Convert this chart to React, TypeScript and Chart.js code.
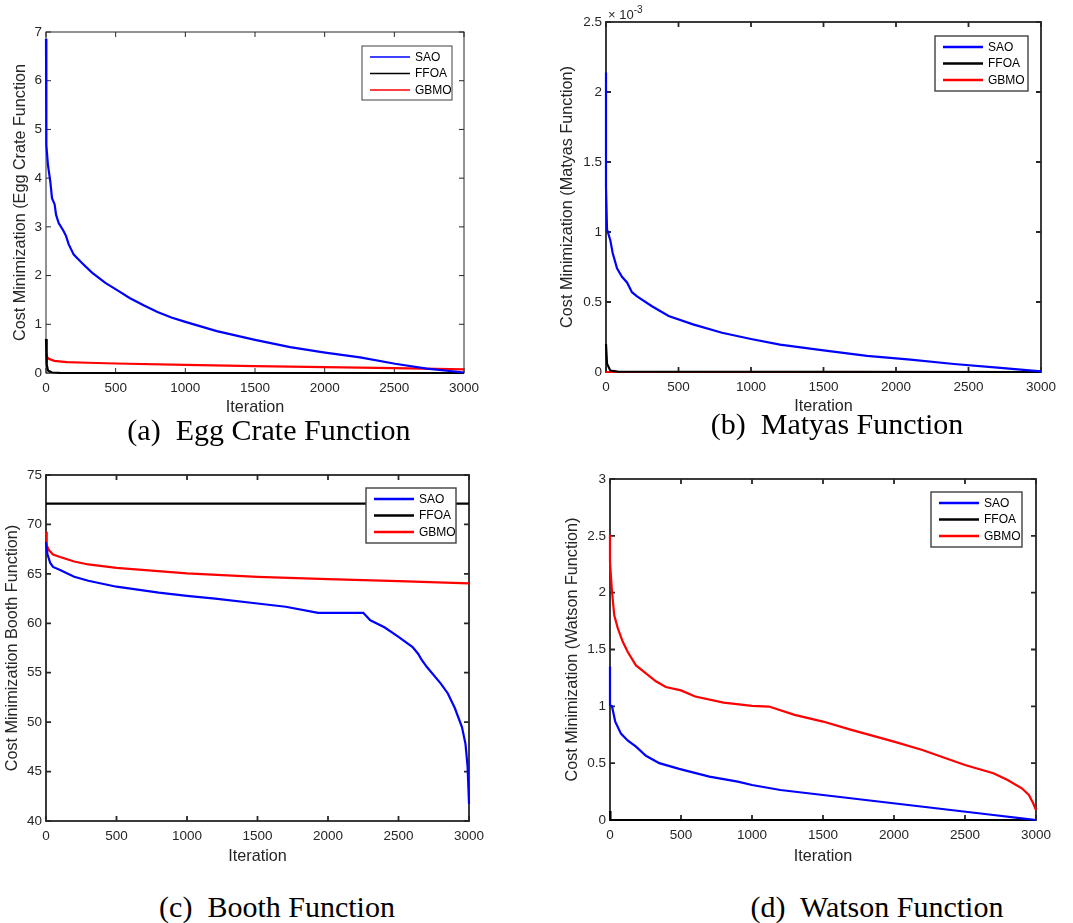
import React, { useEffect, useRef } from "react";
import { Chart, registerables } from "chart.js";
Chart.register(...registerables);

// ---------------- DATA ----------------
const seriesNames = ["SAO", "FFOA", "GBMO"];
const xTicksIter = [0, 500, 1000, 1500, 2000, 2500, 3000];

// (a) Egg Crate
const eggSaoIter = [0, 0, 5, 14, 31, 43, 62, 72, 91, 127, 144, 163, 199, 258, 330, 426, 522, 600, 700, 800, 900, 1000, 1226, 1500, 1752, 2003, 2254, 2505, 2733, 3000];
const eggSao = [6.86, 5.64, 4.68, 4.27, 3.93, 3.59, 3.46, 3.25, 3.08, 2.91, 2.81, 2.64, 2.43, 2.26, 2.06, 1.85, 1.68, 1.54, 1.39, 1.25, 1.14, 1.05, 0.86, 0.68, 0.53, 0.42, 0.32, 0.19, 0.09, 0.01];
const eggFfoaIter = [0, 5, 14, 43, 100, 3000];
const eggFfoa = [0.7, 0.18, 0.05, 0.01, 0.002, 0];
const eggGbmoIter = [0, 5, 20, 60, 150, 300, 500, 1000, 1500, 2000, 2500, 3000];
const eggGbmo = [0.39, 0.34, 0.29, 0.25, 0.225, 0.21, 0.195, 0.165, 0.14, 0.12, 0.1, 0.075];
const eggYTicks = [0, 1, 2, 3, 4, 5, 6, 7];

// (b) Matyas (values in units of 1e-3)
const matSaoIter = [0, 0, 7, 30, 46, 76, 110, 145, 179, 214, 317, 432, 600, 800, 1000, 1200, 1500, 1800, 2100, 2400, 2700, 3000];
const matSao = [2.14, 1.32, 1.02, 0.94, 0.85, 0.74, 0.68, 0.64, 0.57, 0.54, 0.47, 0.4, 0.34, 0.28, 0.236, 0.195, 0.155, 0.115, 0.088, 0.057, 0.031, 0.005];
const matFfoaIter = [0, 7, 30, 80, 3000];
const matFfoa = [0.2, 0.06, 0.01, 0.003, 0];
const matGbmoIter = [0, 3000];
const matGbmo = [0, 0];
const matYTicks = [0, 0.5, 1, 1.5, 2, 2.5];
const matExponent = -3;

// (c) Booth
const boothSaoIter = [0, 10, 30, 50, 100, 200, 300, 500, 800, 1000, 1200, 1500, 1700, 1930, 2250, 2300, 2400, 2500, 2600, 2640, 2660, 2700, 2800, 2850, 2900, 2950, 2975, 2990, 3000];
const boothSao = [68.2, 67.0, 66.1, 65.7, 65.4, 64.7, 64.3, 63.7, 63.1, 62.78, 62.5, 62.0, 61.67, 61.06, 61.06, 60.3, 59.6, 58.63, 57.6, 56.9, 56.4, 55.6, 53.9, 52.9, 51.4, 49.5, 47.8, 45.5, 41.75];
const boothFfoaIter = [0, 3000];
const boothFfoa = [72.1, 72.1];
const boothGbmoIter = [0, 5, 20, 50, 100, 200, 300, 500, 1000, 1500, 2000, 2500, 3000];
const boothGbmo = [69.26, 67.9, 67.4, 66.95, 66.7, 66.25, 65.95, 65.6, 65.04, 64.7, 64.47, 64.27, 64.03];
const boothYTicks = [40, 45, 50, 55, 60, 65, 70, 75];

// (d) Watson
const watSaoIter = [0, 0, 14, 37, 77, 124, 183, 253, 347, 487, 700, 900, 1000, 1200, 1500, 1800, 2100, 2400, 2700, 2900, 3000];
const watSao = [1.35, 1.01, 1.0, 0.865, 0.76, 0.7, 0.645, 0.565, 0.5, 0.45, 0.382, 0.338, 0.308, 0.264, 0.22, 0.176, 0.132, 0.088, 0.044, 0.015, 0.0];
const watFfoaIter = [0, 3, 3000];
const watFfoa = [0.08, 0.0, 0.0];
const watGbmoIter = [0, 0, 14, 30, 54, 89, 124, 183, 253, 323, 393, 500, 600, 800, 1000, 1120, 1300, 1500, 1700, 2000, 2200, 2500, 2700, 2800, 2900, 2950, 2980, 3000];
const watGbmo = [2.51, 2.27, 2.01, 1.8, 1.69, 1.57, 1.48, 1.36, 1.29, 1.22, 1.17, 1.14, 1.086, 1.033, 1.004, 0.998, 0.925, 0.866, 0.793, 0.69, 0.616, 0.484, 0.411, 0.352, 0.279, 0.22, 0.147, 0.088];
const watYTicks = [0, 0.5, 1, 1.5, 2, 2.5, 3];

// ---------------- STYLE / LAYOUT ----------------
const colors = ["#0000FF", "#000000", "#FF0000"];
const axisColor = "#262626";
const sansFont = '"Liberation Sans", Arial, Helvetica, sans-serif';
const serifFont = '"Times New Roman", "Liberation Serif", serif';

type Box = { left: number; top: number; w: number; h: number };
type Panel = {
  key: string;
  caption: string;
  captionX: number;
  captionY: number;
  canvas: Box;
  area: { l: number; t: number; r: number; b: number };
  yTitle: string;
  yTitleX: number;
  xTitleY: number;
  legend: { x: number; y: number; w: number; h: number };
  frameWidth: number;
  legendLineWidth: number;
  series: { iter: number[]; vals: number[] }[];
  yTicks: number[];
  unit: number;
  exponent?: number;
};

const panels: Panel[] = [
  {
    key: "a", caption: "(a)  Egg Crate Function", captionX: 269, captionY: 430,
    canvas: { left: 0, top: 0, w: 540, h: 421 },
    area: { l: 46, t: 32, r: 464, b: 373 },
    yTitle: "Cost Minimization (Egg Crate Function", yTitleX: 21, xTitleY: 408,
    legend: { x: 362, y: 46, w: 90, h: 54 }, frameWidth: 1, legendLineWidth: 1.6,
    series: [
      { iter: eggSaoIter, vals: eggSao },
      { iter: eggFfoaIter, vals: eggFfoa },
      { iter: eggGbmoIter, vals: eggGbmo },
    ],
    yTicks: eggYTicks, unit: 1,
  },
  {
    key: "b", caption: "(b)  Matyas Function", captionX: 837, captionY: 424,
    canvas: { left: 540, top: 0, w: 533, h: 421 },
    area: { l: 606, t: 22, r: 1041, b: 372 },
    yTitle: "Cost Minimization (Matyas Function)", yTitleX: 568, xTitleY: 407,
    legend: { x: 935, y: 36, w: 93, h: 55 }, frameWidth: 1.8, legendLineWidth: 2.5,
    series: [
      { iter: matSaoIter, vals: matSao },
      { iter: matFfoaIter, vals: matFfoa },
      { iter: matGbmoIter, vals: matGbmo },
    ],
    yTicks: matYTicks, unit: Math.pow(10, matExponent), exponent: matExponent,
  },
  {
    key: "c", caption: "(c)  Booth Function", captionX: 277, captionY: 907,
    canvas: { left: 0, top: 440, w: 540, h: 430 },
    area: { l: 46, t: 475, r: 469, b: 821 },
    yTitle: "Cost Minimization Booth Function)", yTitleX: 13, xTitleY: 857,
    legend: { x: 366, y: 488, w: 90, h: 55 }, frameWidth: 1.8, legendLineWidth: 2.5,
    series: [
      { iter: boothSaoIter, vals: boothSao },
      { iter: boothFfoaIter, vals: boothFfoa },
      { iter: boothGbmoIter, vals: boothGbmo },
    ],
    yTicks: boothYTicks, unit: 1,
  },
  {
    key: "d", caption: "(d)  Watson Function", captionX: 877, captionY: 907,
    canvas: { left: 540, top: 440, w: 533, h: 430 },
    area: { l: 610, t: 479, r: 1036, b: 820 },
    yTitle: "Cost Minimization (Watson Function)", yTitleX: 573, xTitleY: 857,
    legend: { x: 931, y: 492, w: 91, h: 55 }, frameWidth: 1.8, legendLineWidth: 2.5,
    series: [
      { iter: watSaoIter, vals: watSao },
      { iter: watFfoaIter, vals: watFfoa },
      { iter: watGbmoIter, vals: watGbmo },
    ],
    yTicks: watYTicks, unit: 1,
  },
];

const tickFontSize = 13.5;
const titleFontSize = 16.2;
const legendFontSize = 12;

const matlabPlugin = {
  id: "matlabPlugin",
  beforeDatasetsDraw(chart: any, _args: any, opts: any) {
    const { ctx, chartArea } = chart;
    const { left, top, right, bottom } = chartArea;
    ctx.save();
    ctx.strokeStyle = axisColor;
    ctx.lineWidth = opts.frameWidth;
    ctx.strokeRect(left, top, right - left, bottom - top);
    const L = 5;
    ctx.beginPath();
    chart.scales.x.ticks.forEach((t: any) => {
      const px = chart.scales.x.getPixelForValue(t.value);
      ctx.moveTo(px, bottom);
      ctx.lineTo(px, bottom - L);
      ctx.moveTo(px, top);
      ctx.lineTo(px, top + L);
    });
    chart.scales.y.ticks.forEach((t: any) => {
      const py = chart.scales.y.getPixelForValue(t.value);
      ctx.moveTo(left, py);
      ctx.lineTo(left + L, py);
      ctx.moveTo(right, py);
      ctx.lineTo(right - L, py);
    });
    ctx.stroke();
    ctx.restore();
  },
  afterDraw(chart: any, _args: any, opts: any) {
    const { ctx, chartArea } = chart;
    const lg = opts.legend;
    ctx.save();
    ctx.fillStyle = "#ffffff";
    ctx.fillRect(lg.x, lg.y, lg.w, lg.h);
    ctx.strokeStyle = "#404040";
    ctx.lineWidth = opts.frameWidth > 1 ? 1.4 : 1;
    ctx.strokeRect(lg.x, lg.y, lg.w, lg.h);
    const rows = [11, 27.5, 44];
    chart.data.datasets.forEach((ds: any, i: number) => {
      const y = lg.y + rows[i];
      ctx.strokeStyle = ds.borderColor;
      ctx.lineWidth = opts.legendLineWidth;
      ctx.beginPath();
      ctx.moveTo(lg.x + 8, y);
      ctx.lineTo(lg.x + 48, y);
      ctx.stroke();
      ctx.fillStyle = "#000000";
      ctx.font = `${legendFontSize}px ${sansFont}`;
      ctx.textAlign = "left";
      ctx.textBaseline = "middle";
      ctx.fillText(ds.label, lg.x + 53, y + 0.5);
    });
    if (opts.exponent !== undefined && opts.exponent !== null) {
      ctx.fillStyle = axisColor;
      ctx.textAlign = "left";
      ctx.textBaseline = "middle";
      ctx.font = `13px ${sansFont}`;
      const base = "\u00d7 10";
      ctx.fillText(base, chartArea.left + 2, chartArea.top - 7);
      const w = ctx.measureText(base).width;
      ctx.font = `10px ${sansFont}`;
      ctx.fillText(String(opts.exponent), chartArea.left + 2 + w, chartArea.top - 12);
    }
    ctx.restore();
  },
};

function PanelChart({ p }: { p: Panel }) {
  const ref = useRef<HTMLCanvasElement | null>(null);
  useEffect(() => {
    if (!ref.current) return;
    const c = p.canvas;
    const relYTitle = p.yTitleX - c.left;
    const relXTitle = p.xTitleY - c.top;
    const yMin = p.yTicks[0] * p.unit;
    const yMax = p.yTicks[p.yTicks.length - 1] * p.unit;
    const yStep = (p.yTicks[1] - p.yTicks[0]) * p.unit;
    const chart = new Chart(ref.current, {
      type: "line",
      data: {
        datasets: p.series.map((s, i) => ({
          label: seriesNames[i],
          data: s.iter.map((x, j) => ({ x, y: s.vals[j] * p.unit })),
          borderColor: colors[i],
          backgroundColor: colors[i],
          borderWidth: 2.2,
          pointRadius: 0,
          tension: 0,
          fill: false,
          clip: false as any,
        })),
      },
      options: {
        animation: false,
        responsive: false,
        maintainAspectRatio: false,
        layout: {
          padding: { left: 0, top: p.area.t - c.top, right: c.left + c.w - p.area.r, bottom: 0 },
        },
        plugins: {
          legend: { display: false },
          tooltip: { enabled: false },
          matlabPlugin: {
            legend: { x: p.legend.x - c.left, y: p.legend.y - c.top, w: p.legend.w, h: p.legend.h },
            frameWidth: p.frameWidth,
            legendLineWidth: p.legendLineWidth,
            exponent: p.exponent,
          },
        } as any,
        scales: {
          x: {
            type: "linear",
            min: xTicksIter[0],
            max: xTicksIter[xTicksIter.length - 1],
            afterBuildTicks: (s: any) => {
              s.ticks = xTicksIter.map((v) => ({ value: v }));
            },
            afterFit: (s: any) => {
              s.height = c.top + c.h - p.area.b;
            },
            grid: { display: false, drawTicks: false },
            border: { display: false },
            ticks: {
              autoSkip: false,
              maxRotation: 0,
              padding: 7,
              color: axisColor,
              font: { size: tickFontSize, family: sansFont },
              callback: (v: any) => String(v),
            },
            title: {
              display: true,
              text: "Iteration",
              color: axisColor,
              font: { size: titleFontSize, family: sansFont, lineHeight: 1 },
              padding: { top: 0, bottom: c.h - relXTitle - titleFontSize / 2 },
            },
          },
          y: {
            type: "linear",
            min: yMin,
            max: yMax,
            afterBuildTicks: (s: any) => {
              s.ticks = p.yTicks.map((v) => ({ value: v * p.unit }));
            },
            afterFit: (s: any) => {
              s.width = p.area.l - c.left;
            },
            grid: { display: false, drawTicks: false },
            border: { display: false },
            ticks: {
              autoSkip: false,
              padding: 4,
              color: axisColor,
              font: { size: tickFontSize, family: sansFont },
              stepSize: yStep,
              callback: (v: any) => String(Math.round((v / p.unit) * 1000) / 1000),
            },
            title: {
              display: true,
              text: p.yTitle,
              color: axisColor,
              font: { size: titleFontSize, family: sansFont, lineHeight: 1 },
              padding: { top: relYTitle - titleFontSize / 2, bottom: 0 },
            },
          },
        },
      },
      plugins: [matlabPlugin as any],
    });
    return () => chart.destroy();
  }, [p]);
  return (
    <canvas
      ref={ref}
      width={p.canvas.w}
      height={p.canvas.h}
      style={{ position: "absolute", left: p.canvas.left, top: p.canvas.top, width: p.canvas.w, height: p.canvas.h }}
    />
  );
}

export default function App() {
  return (
    <div style={{ position: "absolute", left: 0, top: 0, width: 1073, height: 923, background: "#ffffff", overflow: "hidden" }}>
      {panels.map((p) => (
        <PanelChart key={p.key} p={p} />
      ))}
      {panels.map((p) => (
        <div
          key={"cap" + p.key}
          style={{
            position: "absolute",
            left: p.captionX,
            top: p.captionY,
            transform: "translate(-50%, -50%)",
            font: `30px ${serifFont}`,
            lineHeight: 1,
            whiteSpace: "pre",
            color: "#000",
          }}
        >
          {p.caption}
        </div>
      ))}
    </div>
  );
}
